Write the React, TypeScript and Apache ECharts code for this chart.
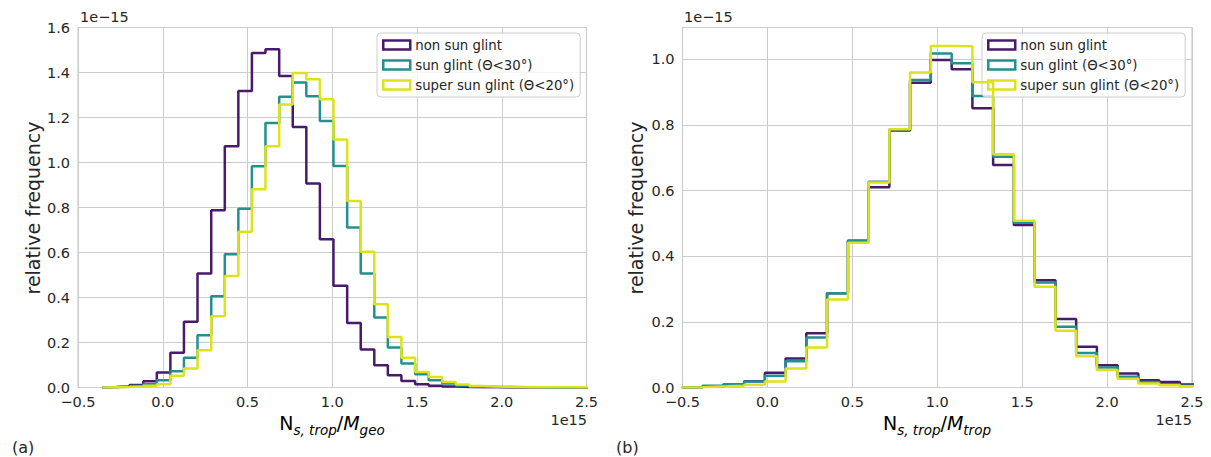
import React, { useEffect, useRef } from "react";
import * as echarts from "echarts";

const seriesNames = ["non sun glint", "sun glint (Θ<30°)", "super sun glint (Θ<20°)"];
const seriesColors = ["#471a6b", "#22908c", "#dde31a"];

// (a) N_s,trop / M_geo  (x in 1e15, y in 1e-15)
const edgesA = [
  -0.356, -0.276, -0.196, -0.115, -0.035, 0.045, 0.125, 0.205, 0.286, 0.366,
  0.446, 0.526, 0.606, 0.687, 0.767, 0.847, 0.927, 1.007, 1.088, 1.168,
  1.248, 1.328, 1.408, 1.489, 1.569, 1.649, 1.729, 1.809, 1.89, 1.97,
  2.05, 2.13, 2.21, 2.291, 2.371, 2.451, 2.531,
];
const nonGlintA = [
  0.002, 0.005, 0.011, 0.028, 0.067, 0.154, 0.292, 0.507, 0.788, 1.072,
  1.318, 1.487, 1.503, 1.384, 1.158, 0.907, 0.659, 0.452, 0.287, 0.169,
  0.099, 0.055, 0.029, 0.015, 0.008, 0.004, 0.002, 0.001, 0.001, 0,
  0, 0, 0, 0, 0, 0,
];
const glintA = [
  0.001, 0.003, 0.007, 0.014, 0.032, 0.072, 0.132, 0.232, 0.406, 0.592,
  0.795, 0.983, 1.176, 1.292, 1.356, 1.295, 1.184, 0.985, 0.711, 0.507,
  0.311, 0.178, 0.107, 0.059, 0.032, 0.018, 0.009, 0.005, 0.003, 0.002,
  0.001, 0.001, 0, 0, 0, 0,
];
const superGlintA = [
  0.001, 0.002, 0.004, 0.008, 0.015, 0.052, 0.084, 0.166, 0.317, 0.496,
  0.692, 0.881, 1.072, 1.258, 1.398, 1.37, 1.281, 1.102, 0.829, 0.603,
  0.37, 0.225, 0.132, 0.069, 0.047, 0.025, 0.013, 0.007, 0.004, 0.003,
  0.002, 0.001, 0.001, 0.001, 0.001, 0.001,
];

// (b) N_s,trop / M_trop
const edgesB = [
  -0.504, -0.382, -0.26, -0.137, -0.015, 0.107, 0.229, 0.351, 0.474, 0.596,
  0.718, 0.84, 0.962, 1.085, 1.207, 1.329, 1.451, 1.573, 1.696, 1.818,
  1.94, 2.062, 2.184, 2.307, 2.429, 2.551,
];
const nonGlintB = [
  0.001, 0.004, 0.008, 0.019, 0.045, 0.088, 0.165, 0.287, 0.447, 0.61,
  0.783, 0.929, 0.998, 0.97, 0.851, 0.678, 0.495, 0.327, 0.209, 0.124,
  0.068, 0.043, 0.022, 0.017, 0.009,
];
const glintB = [
  0.001, 0.005, 0.01, 0.018, 0.036, 0.08, 0.152, 0.287, 0.447, 0.627,
  0.787, 0.937, 1.018, 0.988, 0.888, 0.703, 0.502, 0.32, 0.185, 0.105,
  0.061, 0.033, 0.017, 0.01, 0.005,
];
const superGlintB = [
  0.001, 0.003, 0.005, 0.008, 0.018, 0.058, 0.122, 0.268, 0.441, 0.625,
  0.787, 0.96, 1.041, 1.04, 0.93, 0.711, 0.508, 0.307, 0.173, 0.095,
  0.053, 0.027, 0.012, 0.007, 0.004,
];

const xTicksMin = -0.5;
const xTicksMax = 2.5;
const yMaxA = 1.6;
const yMaxB = 1.097;

const FONT = "DejaVu Sans";
const TEXT = "#262626";
const GRID = "#cccccc";

function stepData(edges: number[], vals: number[]) {
  const d: number[][] = [[edges[0], 0]];
  vals.forEach((v, i) => d.push([edges[i], v]));
  d.push([edges[edges.length - 1], 0]);
  return d;
}

const fmt = (v: number) => {
  const s = v.toFixed(1);
  return s.startsWith("-") ? "\u2212" + s.slice(1) : s;
};

export default function App() {
  const ref = useRef<HTMLDivElement>(null);
  useEffect(() => {
    document.body.style.margin = "0";
    const chart = echarts.init(ref.current!, undefined, { renderer: "svg" });

    const xAxisBase = (gridIndex: number) => ({
      type: "value" as const,
      gridIndex,
      min: xTicksMin,
      max: xTicksMax,
      interval: 0.5,
      axisLine: { show: false },
      axisTick: { show: false },
      axisLabel: { fontSize: 14.5, color: TEXT, fontFamily: FONT, margin: 7, formatter: fmt },
      splitLine: { show: true, lineStyle: { color: GRID, width: 1 } },
    });
    const yAxisBase = (gridIndex: number, max: number) => ({
      type: "value" as const,
      gridIndex,
      min: 0,
      max,
      interval: 0.2,
      axisLine: { show: false },
      axisTick: { show: false },
      axisLabel: {
        fontSize: 14.5,
        color: TEXT,
        fontFamily: FONT,
        margin: 8,
        formatter: (v: number) => (Math.abs(Math.round(v / 0.2) * 0.2 - v) < 1e-6 ? fmt(v) : ""),
      },
      splitLine: { show: true, lineStyle: { color: GRID, width: 1 } },
    });

    const mkSeries = (idx: number, edges: number[], vals: number[], ci: number) => ({
      type: "line" as const,
      name: seriesNames[ci],
      xAxisIndex: idx,
      yAxisIndex: idx,
      step: "end" as const,
      showSymbol: false,
      symbol: "none",
      data: stepData(edges, vals),
      lineStyle: { color: seriesColors[ci], width: 2.5 },
      itemStyle: { color: seriesColors[ci] },
      clip: true,
      z: 2 + ci,
    });

    const legendBase = (left: number) => ({
      left,
      top: 33,
      orient: "vertical" as const,
      icon: "rect",
      itemWidth: 27,
      itemHeight: 9,
      itemGap: 6,
      itemTextGap: 10,
      padding: [5, 6, 5, 5],
      backgroundColor: "rgba(255,255,255,0.8)",
      borderColor: GRID,
      borderWidth: 1,
      borderRadius: 4,
      selectedMode: false,
      textStyle: { fontSize: 13.3, color: TEXT, fontFamily: FONT, lineHeight: 14 },
      data: seriesNames.map((n, i) => ({
        name: n,
        itemStyle: { color: "rgba(255,255,255,0)", borderColor: seriesColors[i], borderWidth: 2.5 },
      })),
    });

    const subRich = {
      n: { fontSize: 19, fontFamily: FONT, color: TEXT, lineHeight: 23, verticalAlign: "top" },
      m: { fontSize: 19, fontFamily: FONT, fontStyle: "italic", color: TEXT, lineHeight: 23, verticalAlign: "top" },
      s: { fontSize: 13.5, fontFamily: FONT, fontStyle: "italic", color: TEXT, lineHeight: 13, verticalAlign: "bottom" },
    };

    const option = {
      animation: false,
      backgroundColor: "#ffffff",
      grid: [
        { left: 78, right: 624.5, top: 27.5, bottom: 69.5, show: true, borderColor: GRID, borderWidth: 1.2, backgroundColor: "transparent" },
        { left: 682.5, right: 19, top: 27.5, bottom: 69.5, show: true, borderColor: GRID, borderWidth: 1.2, backgroundColor: "transparent" },
      ],
      xAxis: [xAxisBase(0), xAxisBase(1)],
      yAxis: [yAxisBase(0, yMaxA), yAxisBase(1, yMaxB)],
      legend: [legendBase(377), legendBase(982)],
      series: [
        mkSeries(0, edgesA, nonGlintA, 0),
        mkSeries(0, edgesA, glintA, 1),
        mkSeries(0, edgesA, superGlintA, 2),
        mkSeries(1, edgesB, nonGlintB, 0),
        mkSeries(1, edgesB, glintB, 1),
        mkSeries(1, edgesB, superGlintB, 2),
      ],
      graphic: [
        { type: "text", left: 80, top: 9, style: { text: "1e\u221215", fontSize: 14.5, fontFamily: FONT, fill: TEXT } },
        { type: "text", left: 684, top: 9, style: { text: "1e\u221215", fontSize: 14.5, fontFamily: FONT, fill: TEXT } },
        { type: "text", right: 1211 - 587, top: 412, style: { text: "1e15", fontSize: 14.5, fontFamily: FONT, fill: TEXT } },
        { type: "text", right: 1211 - 1192, top: 412, style: { text: "1e15", fontSize: 14.5, fontFamily: FONT, fill: TEXT } },
        {
          type: "text", x: 33, y: 208, rotation: Math.PI / 2,
          style: { text: "relative frequency", fontSize: 19, fontFamily: FONT, fill: TEXT, align: "center", verticalAlign: "middle" },
        },
        {
          type: "text", x: 636, y: 208, rotation: Math.PI / 2,
          style: { text: "relative frequency", fontSize: 19, fontFamily: FONT, fill: TEXT, align: "center", verticalAlign: "middle" },
        },
        {
          type: "text", x: 332, y: 425,
          style: { text: "{n|N}{s|s, trop}{n|/}{m|M}{s|geo}", rich: subRich, align: "center", verticalAlign: "middle" },
        },
        {
          type: "text", x: 937, y: 425,
          style: { text: "{n|N}{s|s, trop}{n|/}{m|M}{s|trop}", rich: subRich, align: "center", verticalAlign: "middle" },
        },
        { type: "text", left: 12, top: 439, style: { text: "(a)", fontSize: 16, fontFamily: FONT, fill: TEXT } },
        { type: "text", left: 616, top: 439, style: { text: "(b)", fontSize: 16, fontFamily: FONT, fill: TEXT } },
      ],
    };
    chart.setOption(option as any);
    return () => chart.dispose();
  }, []);
  return <div ref={ref} style={{ width: 1211, height: 457 }} />;
}
